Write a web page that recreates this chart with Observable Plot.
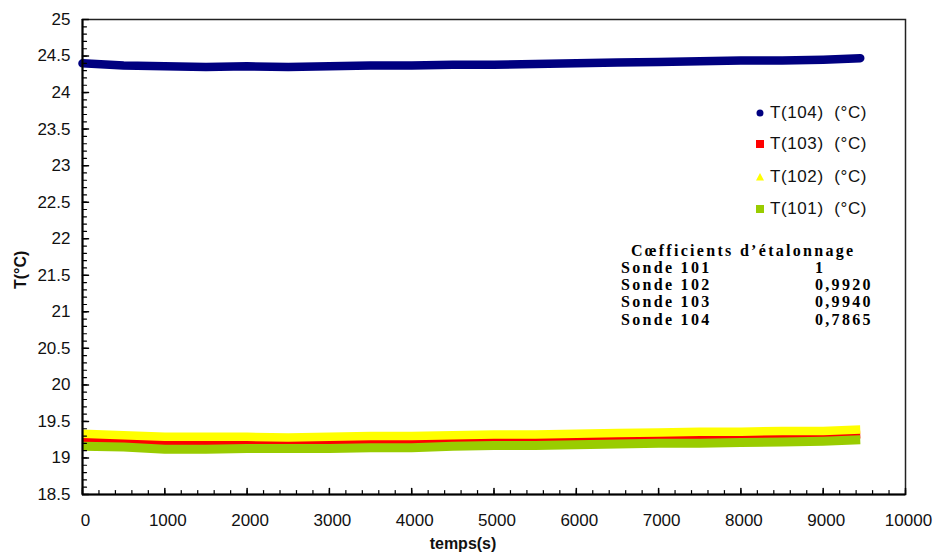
<!DOCTYPE html>
<html>
<head>
<meta charset="utf-8">
<script src="https://cdn.jsdelivr.net/npm/d3@7"></script>
<script src="https://cdn.jsdelivr.net/npm/@observablehq/plot@0.6"></script>
<style>
  body { margin: 0; background: #fff; }
  #wrap { position: relative; width: 935px; height: 558px; font-family: "Liberation Sans", Arial, sans-serif; }
  #wrap svg { position: absolute; left: 0; top: 0; }
  .leg { position: absolute; font-size: 17px; letter-spacing: 0.6px; line-height: 20px; color: #111; white-space: pre; }
  .tab { position: absolute; font-family: "Liberation Serif", "Times New Roman", serif; font-weight: bold; font-size: 16px; letter-spacing: 2.3px; line-height: 16px; color: #000; white-space: pre; }
</style>
</head>
<body>
<div id="wrap"></div>
<script>
// time samples (s)
const temps = [0, 500, 1000, 1500, 2000, 2500, 3000, 3500, 4000, 4500, 5000, 5500, 6000, 6500, 7000, 7500, 8000, 8500, 9000, 9450];
// series values (°C)
const T104 = [24.40, 24.37, 24.36, 24.35, 24.36, 24.35, 24.36, 24.37, 24.37, 24.38, 24.38, 24.39, 24.40, 24.41, 24.42, 24.43, 24.44, 24.44, 24.45, 24.47];
const T103 = [19.26, 19.25, 19.22, 19.21, 19.22, 19.22, 19.22, 19.23, 19.23, 19.24, 19.24, 19.25, 19.26, 19.26, 19.27, 19.28, 19.28, 19.29, 19.30, 19.32];
const T102 = [19.33, 19.31, 19.29, 19.29, 19.29, 19.28, 19.29, 19.30, 19.30, 19.31, 19.32, 19.32, 19.33, 19.34, 19.35, 19.36, 19.36, 19.37, 19.37, 19.39];
const T101 = [19.16, 19.15, 19.12, 19.12, 19.13, 19.13, 19.13, 19.14, 19.14, 19.16, 19.17, 19.17, 19.18, 19.19, 19.20, 19.20, 19.21, 19.22, 19.23, 19.25];
// tick labels
const xTicks = [0, 1000, 2000, 3000, 4000, 5000, 6000, 7000, 8000, 9000, 10000];
const yTicks = [18.5, 19, 19.5, 20, 20.5, 21, 21.5, 22, 22.5, 23, 23.5, 24, 24.5, 25];
// legend & coefficient table
const seriesNames = ["T(104)  (°C)", "T(103)  (°C)", "T(102)  (°C)", "T(101)  (°C)"];
const seriesColors = ["#000080", "#ff0000", "#ffff00", "#99cc00"];
const tableTitle = "Cœfficients d’étalonnage";
const sondes = ["Sonde 101", "Sonde 102", "Sonde 103", "Sonde 104"];
const coefs = ["1", "0,9920", "0,9940", "0,7865"];

const mk = arr => temps.map((t, i) => ({t, v: arr[i]}));
const d104 = mk(T104), d103 = mk(T103), d102 = mk(T102), d101 = mk(T101);

const yMinor = d3.range(185, 251).map(v => v / 10);
const xMinor = d3.range(0, 10001, 200);
const stick = {draw(context, l) { context.moveTo(0, 0); context.lineTo(0, -l); }};

const plot = Plot.plot({
  width: 935,
  height: 558,
  marginLeft: 82,
  marginRight: 30,
  marginTop: 19,
  marginBottom: 64,
  style: {fontFamily: "Liberation Sans, Arial, sans-serif", fontSize: "17px", color: "#111", background: "transparent"},
  x: {domain: [0, 10000]},
  y: {domain: [18.5, 25]},
  marks: [
    Plot.line(d104, {x: "t", y: "v", stroke: seriesColors[0], strokeWidth: 8.5, strokeLinecap: "round", strokeLinejoin: "round"}),
    Plot.line(d103, {x: "t", y: "v", stroke: seriesColors[1], strokeWidth: 8, strokeLinecap: "butt"}),
    Plot.line(d102, {x: "t", y: "v", stroke: seriesColors[2], strokeWidth: 8.5, strokeLinecap: "butt"}),
    Plot.line(d101, {x: "t", y: "v", stroke: seriesColors[3], strokeWidth: 9, strokeLinecap: "butt"}),
    Plot.frame({stroke: "#222", strokeWidth: 1.5}),
    Plot.ruleX([0], {stroke: "#000", strokeWidth: 2}),
    Plot.ruleY([18.5], {stroke: "#000", strokeWidth: 2}),
    // inward ticks
    Plot.vector(yMinor, {x: 0, y: d => d, rotate: 90, length: 4, anchor: "start", stroke: "#000", strokeWidth: 1.2, shape: stick}),
    Plot.vector(yTicks, {x: 0, y: d => d, rotate: 90, length: 6, anchor: "start", stroke: "#000", strokeWidth: 1.5, shape: stick}),
    Plot.vector(xMinor, {x: d => d, y: 18.5, rotate: 0, length: 4, anchor: "start", stroke: "#000", strokeWidth: 1.2, shape: stick}),
    Plot.vector(xTicks, {x: d => d, y: 18.5, rotate: 0, length: 6, anchor: "start", stroke: "#000", strokeWidth: 1.5, shape: stick}),
    Plot.axisY(yTicks, {tickSize: 0, tickPadding: 12, tickFormat: d => String(d), label: null, fontSize: 17, fill: "#111"}),
    Plot.axisX(xTicks, {tickSize: 0, tickPadding: 19, tickFormat: d => String(d), label: null, fontSize: 17, fill: "#111", dx: 3}),
    Plot.text(["temps(s)"], {frameAnchor: "bottom", dy: 54, dx: -31, text: d => d, fontWeight: "bold", fontSize: 16, fill: "#111"}),
    Plot.text(["T(°C)"], {frameAnchor: "left", dx: -62, dy: 32, rotate: -90, text: d => d, fontWeight: "bold", fontSize: 16, fill: "#111"})
  ]
});
const wrap = document.getElementById("wrap");
wrap.appendChild(plot);

// legend
const legY = [113, 144, 177, 209];
const shapes = ["circle", "square", "triangle", "square"];
seriesNames.forEach((name, i) => {
  const ns = "http://www.w3.org/2000/svg";
  const s = document.createElementNS(ns, "svg");
  s.setAttribute("width", 12); s.setAttribute("height", 12);
  s.style.left = (760 - 6) + "px"; s.style.top = (legY[i] - 6) + "px";
  let el;
  if (shapes[i] === "circle") { el = document.createElementNS(ns, "circle"); el.setAttribute("cx", 6); el.setAttribute("cy", 6); el.setAttribute("r", 3.5); }
  else if (shapes[i] === "triangle") { el = document.createElementNS(ns, "path"); el.setAttribute("d", "M6,2L10,9.5L2,9.5Z"); }
  else { el = document.createElementNS(ns, "rect"); el.setAttribute("x", 2); el.setAttribute("y", 2); el.setAttribute("width", 8); el.setAttribute("height", 8); }
  el.setAttribute("fill", seriesColors[i]);
  s.appendChild(el);
  wrap.appendChild(s);
  const t = document.createElement("div");
  t.className = "leg";
  t.textContent = name;
  t.style.left = "770px";
  t.style.top = (legY[i] - 10) + "px";
  wrap.appendChild(t);
});

// coefficient table
const tt = document.createElement("div");
tt.className = "tab";
tt.textContent = tableTitle;
tt.style.left = "631px"; tt.style.top = (251 - 8) + "px";
wrap.appendChild(tt);
const rowY = [268, 285, 302, 320];
sondes.forEach((s, i) => {
  const a = document.createElement("div");
  a.className = "tab"; a.textContent = s;
  a.style.left = "621px"; a.style.top = (rowY[i] - 8) + "px";
  wrap.appendChild(a);
  const b = document.createElement("div");
  b.className = "tab"; b.textContent = coefs[i];
  b.style.left = "815px"; b.style.top = (rowY[i] - 8) + "px";
  wrap.appendChild(b);
});
</script>
</body>
</html>
